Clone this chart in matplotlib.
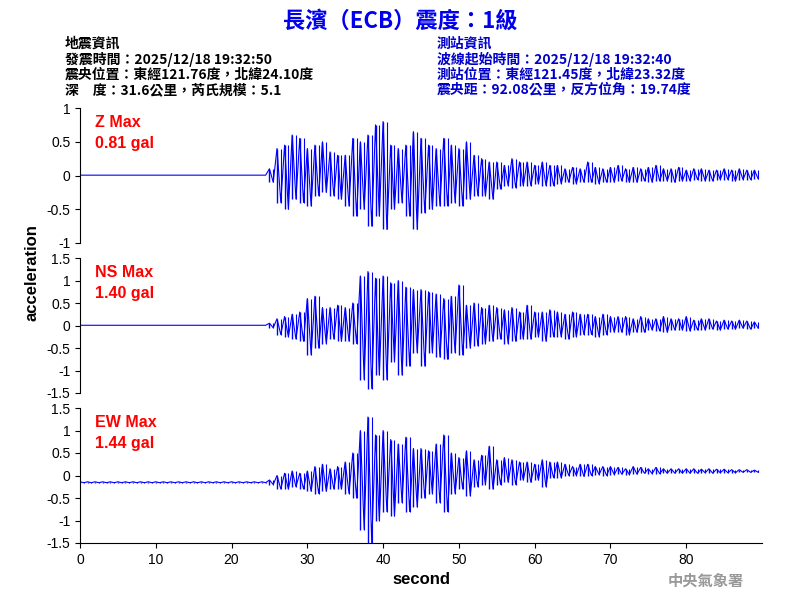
import matplotlib.pyplot as plt
import numpy as np

plt.rcParams['font.family'] = ['Noto Sans CJK TC', 'DejaVu Sans']
LATIN = 'Liberation Sans'

# per-second peak values (upper peak at t, lower peak at t+0.5)
seconds = list(range(90))
quiet = [0.005] * 25

z_upper = quiet + [0.1, 0.4, 0.45, 0.6, 0.55, 0.4, 0.45, 0.5, 0.35, 0.3,
                   0.3, 0.55, 0.5, 0.6, 0.75, 0.8, 0.45, 0.4, 0.45, 0.65,
                   0.55, 0.45, 0.4, 0.55, 0.45, 0.4, 0.5, 0.3, 0.25, 0.2,
                   0.2, 0.15, 0.25, 0.2, 0.2, 0.15, 0.2, 0.15, 0.15, 0.1,
                   0.12, 0.1, 0.2, 0.12, 0.1, 0.12, 0.15, 0.1, 0.12, 0.1,
                   0.12, 0.15, 0.1, 0.1, 0.12, 0.08, 0.1, 0.1, 0.08, 0.08,
                   0.1, 0.08, 0.1, 0.08, 0.08]
z_lower = quiet + [-0.1, -0.4, -0.5, -0.35, -0.4, -0.45, -0.3, -0.25, -0.3, -0.35,
                   -0.45, -0.6, -0.5, -0.75, -0.6, -0.8, -0.5, -0.4, -0.6, -0.8,
                   -0.55, -0.5, -0.45, -0.45, -0.4, -0.45, -0.35, -0.3, -0.3, -0.35,
                   -0.2, -0.15, -0.18, -0.15, -0.15, -0.12, -0.15, -0.15, -0.12, -0.1,
                   -0.12, -0.1, -0.1, -0.12, -0.1, -0.1, -0.08, -0.1, -0.1, -0.08,
                   -0.1, -0.08, -0.08, -0.1, -0.08, -0.08, -0.06, -0.08, -0.08, -0.06,
                   -0.06, -0.08, -0.06, -0.06, -0.05]

ns_upper = quiet + [0.05, 0.15, 0.2, 0.25, 0.3, 0.6, 0.65, 0.4, 0.4, 0.45,
                    0.4, 0.5, 1.1, 1.2, 1.05, 1.1, 0.95, 1.0, 0.85, 0.8,
                    0.8, 0.75, 0.7, 0.6, 0.65, 0.9, 0.45, 0.5, 0.4, 0.45,
                    0.4, 0.35, 0.4, 0.3, 0.45, 0.3, 0.3, 0.35, 0.3, 0.25,
                    0.3, 0.25, 0.25, 0.2, 0.25, 0.2, 0.2, 0.2, 0.15, 0.2,
                    0.15, 0.15, 0.2, 0.15, 0.15, 0.2, 0.12, 0.15, 0.15, 0.1,
                    0.12, 0.1, 0.12, 0.1, 0.08]
ns_lower = quiet + [-0.05, -0.2, -0.25, -0.3, -0.35, -0.65, -0.5, -0.4, -0.3, -0.35,
                    -0.35, -0.4, -1.2, -1.4, -1.1, -1.2, -0.8, -1.1, -0.9, -0.6,
                    -0.9, -0.6, -0.7, -0.75, -0.6, -0.65, -0.5, -0.45, -0.4, -0.35,
                    -0.3, -0.4, -0.35, -0.3, -0.3, -0.25, -0.35, -0.25, -0.25, -0.3,
                    -0.25, -0.2, -0.2, -0.25, -0.2, -0.15, -0.15, -0.2, -0.15, -0.15,
                    -0.1, -0.12, -0.15, -0.1, -0.1, -0.12, -0.1, -0.1, -0.08, -0.1,
                    -0.08, -0.08, -0.06, -0.08, -0.06]

ew_upper = [-0.14] * 25 + [-0.1, 0.0, 0.05, 0.1, 0.05, 0.1, 0.2, 0.25, 0.15, 0.2,
                           0.3, 0.5, 1.0, 1.3, 0.9, 1.0, 0.8, 0.7, 0.85, 0.6,
                           0.6, 0.55, 0.7, 0.9, 0.5, 0.4, 0.55, 0.35, 0.45, 0.65,
                           0.35, 0.4, 0.35, 0.3, 0.3, 0.25, 0.35, 0.3, 0.3, 0.25,
                           0.2, 0.25, 0.25, 0.2, 0.2, 0.2, 0.18, 0.15, 0.2, 0.18,
                           0.15, 0.18, 0.15, 0.15, 0.15, 0.15, 0.15, 0.14, 0.15, 0.14,
                           0.14, 0.13, 0.13, 0.13, 0.12]
ew_lower = [-0.16] * 25 + [-0.2, -0.3, -0.3, -0.25, -0.3, -0.35, -0.4, -0.35, -0.3, -0.3,
                           -0.4, -0.5, -1.2, -1.5, -1.0, -0.8, -0.9, -0.6, -0.8, -0.7,
                           -0.5, -0.4, -0.6, -0.8, -0.4, -0.3, -0.45, -0.25, -0.2, -0.3,
                           -0.2, -0.15, -0.2, -0.1, -0.15, -0.1, -0.25, -0.05, -0.05, -0.0,
                           0.0, -0.02, 0.0, 0.02, 0.0, 0.02, 0.03, 0.02, 0.03, 0.05,
                           0.04, 0.04, 0.05, 0.05, 0.05, 0.05, 0.05, 0.06, 0.05, 0.06,
                           0.06, 0.06, 0.07, 0.07, 0.07]

channels = [
    ("Z Max\n0.81 gal", z_upper, z_lower, [-1, -0.5, 0, 0.5, 1], (-1, 1)),
    ("NS Max\n1.40 gal", ns_upper, ns_lower, [-1.5, -1, -0.5, 0, 0.5, 1, 1.5], (-1.5, 1.5)),
    ("EW Max\n1.44 gal", ew_upper, ew_lower, [-1.5, -1, -0.5, 0, 0.5, 1, 1.5], (-1.5, 1.5)),
]

fig = plt.figure(figsize=(8, 6), dpi=100)
tops = [0.82, 0.57, 0.32]
for i, (label, up, lo, ticks, ylim) in enumerate(channels):
    ax = fig.add_axes([0.1, tops[i] - 0.225, 0.8525, 0.225])
    t = np.empty(180)
    v = np.empty(180)
    t[0::2] = seconds
    t[1::2] = np.array(seconds) + 0.5
    v[0::2] = up
    v[1::2] = lo
    # vertical peak-to-peak strokes plus the zigzag trace between peaks
    ax.vlines(seconds, lo, up, color='#0000ff', linewidth=1.0)
    ax.vlines(np.array(seconds) + 0.5, lo, up, color='#0000ff', linewidth=0.8)
    ax.plot(t, v, color='#0000ff', linewidth=0.8)
    ax.set_xlim(0, 90)
    ax.set_ylim(*ylim)
    ax.set_yticks(ticks)
    ax.set_yticklabels([f"{x:g}" for x in ticks], fontfamily=LATIN)
    ax.tick_params(labelsize=10)
    for s in ['top', 'right']:
        ax.spines[s].set_visible(False)
    if i < 2:
        ax.spines['bottom'].set_visible(False)
        ax.set_xticks([])
    else:
        ax.set_xticks(range(0, 90, 10))
        ax.set_xticklabels([str(x) for x in range(0, 90, 10)], fontfamily=LATIN)
        ax.set_xlabel("second", fontsize=12, fontweight='bold', fontfamily=LATIN)
    ax.text(0.022, 0.95, label, transform=ax.transAxes, color='red', fontsize=11.5,
            fontweight='bold', va='top', fontfamily=LATIN, linespacing=1.5)

fig.text(0.04, 0.545, "acceleration", rotation=90, ha='center', va='center',
         fontsize=12, fontweight='bold', fontfamily=LATIN)

fig.text(0.5, 0.965, "長濱（ECB）震度：1級", color='#0000ee', fontsize=16,
         fontweight='bold', ha='center', va='center')

left_lines = ["地震資訊", "發震時間：2025/12/18 19:32:50",
              "震央位置：東經121.76度，北緯24.10度", "深　度：31.6公里，芮氏規模：5.1"]
right_lines = ["測站資訊", "波線起始時間：2025/12/18 19:32:40",
               "測站位置：東經121.45度，北緯23.32度", "震央距：92.08公里，反方位角：19.74度"]
for k, (a, b) in enumerate(zip(left_lines, right_lines)):
    y = 1 - (44 + 15.3 * k) / 600
    fig.text(0.081, y, a, fontsize=10, fontweight='bold', va='center', color='black')
    fig.text(0.546, y, b, fontsize=10, fontweight='bold', va='center', color='#0000cc')

fig.text(0.93, 0.032, "中央氣象署", color='#999999', fontsize=11, fontweight='bold',
         ha='right', va='center')

fig.savefig("out.png", dpi=100)
